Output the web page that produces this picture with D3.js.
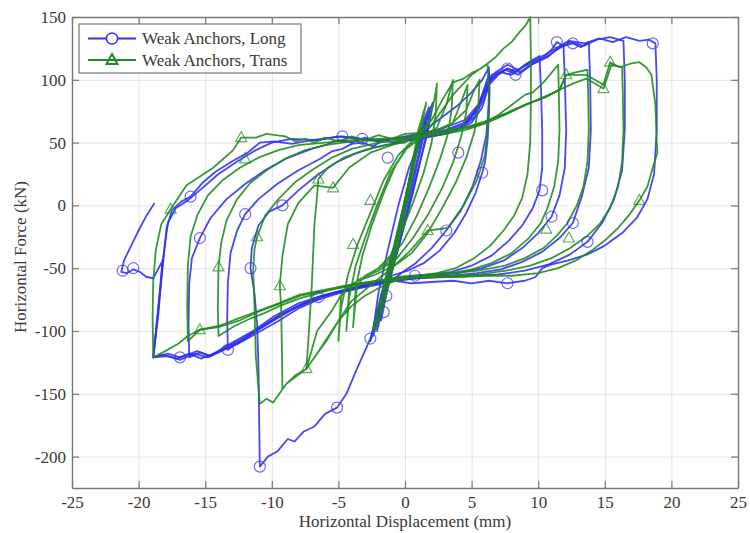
<!DOCTYPE html>
<html>
<head>
<meta charset="utf-8">
<script src="https://cdn.jsdelivr.net/npm/d3@7/dist/d3.min.js"></script>
<style>
  body { margin: 0; background: #fff; }
  svg text { font-family: "Liberation Serif", "Times New Roman", Times, "DejaVu Serif", serif; fill: #383838; }
</style>
</head>
<body>
<div id="chart"></div>
<script>
const width = 750;
const height = 533;

const xTicks = [-25, -20, -15, -10, -5, 0, 5, 10, 15, 20, 25];
const yTicks = [-200, -150, -100, -50, 0, 50, 100, 150];
const seriesNames = ['Weak Anchors, Long', 'Weak Anchors, Trans'];

// Long direction, one array per loading cycle (displacement mm, force kN)
const longSmall = [[0,0],[0.6,35],[1.2,62],[1.8,78],[1.4,55],[0.4,8],[-0.6,-38],[-1.5,-72],[-2.2,-96],[-2.6,-108],[-2.1,-84],[-1.2,-50],[-0.2,-5],[0.8,42],[1.6,70],[2.1,82],[1.7,58],[0.6,12],[-0.5,-34],[-1.4,-66],[-2.0,-92],[-2.4,-104],[-1.9,-76],[-1,-40],[0,0]];
const longInner = [[-1.8,-92],[-1.2,-60],[-0.4,-20],[0.4,25],[1.2,58],[1.9,75],[1.5,52],[0.6,10],[-0.4,-30],[-1.3,-65],[-2.1,-100],[-1.6,-72],[-0.8,-35],[0,5],[0.8,40],[1.5,66],[1.2,50],[0.3,8],[-0.8,-40],[-1.7,-80]];
const longCycle1 = [[0,0],[0.6,32],[1.2,55],[2,64],[3,72],[4,80],[5,90],[5.8,100],[6.3,110],[6.35,92],[6.3,72],[6.2,52],[6,34],[5.8,26],[5.3,10],[4.6,-6],[3.7,-22],[2.6,-36],[1.4,-46],[0.2,-52],[-1,-56],[-1.6,-69],[-2,-85],[-2.6,-106],[-3.6,-130],[-4.4,-150],[-5.1,-161],[-6,-166],[-6.8,-176],[-7.6,-180],[-8.3,-188],[-8.8,-186],[-9.6,-196],[-10.3,-200],[-10.9,-208],[-10.95,-170],[-11,-130],[-11.1,-95],[-11.3,-70],[-11.6,-50],[-11.5,-34],[-11,-16],[-10.2,-5],[-9.2,0],[-8,12],[-6.6,24],[-5.2,34],[-3.8,41],[-2.4,46],[-1,49],[0,51]];
const longRepeat = [[0,51],[1.5,54],[3,57],[4.2,62],[5,70],[5.6,82],[6.1,98],[6.3,104],[6.3,80],[6.1,56],[5.7,36],[5.1,16],[4.2,-4],[3.1,-20],[2,-34],[0.8,-46],[-0.3,-54],[-1.2,-62],[-2,-86],[-2.4,-100],[-2,-70],[-1.3,-36],[-0.5,0],[0.3,30],[1,48]];
const longCycle2 = [[0,51],[1,54],[2,55],[3,57],[4,60],[5,66],[5.8,78],[6.3,96],[7,104],[7.7,109],[8.3,106],[9,112],[9.6,116],[10.1,119],[10.2,95],[10.3,60],[10.3,30],[10.1,12],[9.6,-2],[8.8,-16],[7.8,-28],[6.5,-40],[5,-48],[3.5,-53],[2,-55],[0.75,-56],[-0.5,-58],[-1.6,-60],[-3,-63],[-4.5,-67],[-6.5,-73],[-8,-80],[-9.5,-88],[-10.8,-97],[-12,-106],[-12.8,-111],[-13.3,-115],[-13.35,-90],[-13.3,-62],[-13.1,-38],[-12.6,-20],[-12,-7],[-11,5],[-9.6,17],[-8,28],[-6.4,37],[-5.5,43],[-4.7,45],[-4,49],[-3.2,50],[-2.4,47],[-1.6,52],[-0.8,50],[0,53]];
const longCycle3 = [[0,53],[1.5,55],[3,58],[4.2,62],[5.2,70],[6,86],[6.4,100],[7.2,106],[8,104],[8.8,110],[9.6,114],[10.4,118],[11,124],[11.4,130],[11.9,127],[12,100],[12.1,60],[12,30],[11.6,8],[11,-9],[10,-22],[8.8,-34],[7.4,-44],[5.8,-50],[4,-54],[2,-56],[0,-58],[-2,-61],[-4,-66],[-6,-71],[-8,-78],[-9.8,-88],[-11.4,-100],[-12.6,-107],[-13.6,-113],[-14.6,-120],[-15.4,-117],[-16.2,-121],[-16.25,-95],[-16.2,-62],[-16,-42],[-15.4,-26],[-14.6,-10],[-13.4,5],[-12,17],[-10.5,28],[-9,37],[-7,45],[-6,48],[-5,52],[-4,50],[-3,54],[-2,51],[-1,53],[0,54]];
const longCycle4 = [[0,54],[1.5,56],[3,59],[4.3,64],[5.3,74],[6.1,92],[6.5,104],[7.5,108],[8.5,104],[9.5,112],[10.7,118],[11.6,126],[12.6,129],[13.2,126],[13.8,130],[13.9,100],[13.95,60],[13.8,30],[13.3,8],[12.6,-14],[11.6,-26],[10.3,-37],[8.8,-45],[7.2,-51],[5.4,-54],[3.5,-56],[1.5,-57],[0,-59],[-2,-62],[-4,-67],[-6,-72],[-7.9,-80],[-9.5,-88],[-11,-98],[-12.2,-106],[-13.4,-113],[-14.6,-120],[-15.6,-116],[-16.9,-121],[-17.8,-118],[-18.9,-121],[-18.6,-90],[-18.2,-50],[-17.9,-18],[-17.5,-4],[-16.8,3],[-16.1,7],[-15.2,18],[-14.2,27],[-13,35],[-11.8,42],[-10.9,50],[-9.8,51],[-8.5,49],[-7,52],[-5.5,54],[-4.7,55],[-3.2,53],[-1.5,52],[0,54]];
const longCycle5 = [[0,54],[1.5,57],[3,60],[4.5,66],[5.5,78],[6.2,96],[6.8,104],[7.7,109],[8.6,106],[9.6,113],[10.7,119],[11.4,124],[12.4,130],[13.4,127],[14.4,132],[15.4,134],[16.4,131],[16.5,100],[16.5,60],[16.3,28],[15.7,5],[14.8,-14],[13.7,-29],[12.4,-39],[10.8,-47],[9,-52],[7,-55],[5,-56],[3,-57],[1,-58],[-1,-60],[-3,-64],[-5,-69],[-6.5,-73],[-8,-80],[-9.6,-90],[-11,-99],[-12.3,-108],[-13.5,-114],[-14.4,-118],[-15.3,-122],[-16.2,-118],[-17.1,-122],[-18.2,-119],[-18.9,-121],[-18.5,-85],[-18.2,-45],[-17.8,-14],[-17.2,-2],[-16.3,4],[-15.2,14],[-14,25],[-12.6,35],[-11.2,44],[-10,50],[-8.5,53],[-6.5,52],[-5,55],[-3.5,53],[-2,51],[0,55]];
const longCycle6 = [[0,55],[1.5,58],[3,62],[4.5,68],[5.5,80],[6.2,98],[6.8,106],[7.7,112],[8.5,108],[9.4,114],[10.5,120],[11.5,126],[12.3,131],[13.5,129],[14.6,133],[15.6,130],[16.6,134],[17.6,131],[18.3,132],[18.8,129],[18.9,100],[18.9,60],[18.7,25],[18.2,5],[17.4,-10],[16.3,-22],[15,-32],[13.7,-39],[12.2,-44],[11,-47],[10.3,-50],[9.8,-57],[9,-60],[7.7,-62],[6.3,-60],[5,-62],[3.6,-60],[2,-61],[0.5,-62],[-0.8,-60],[-2,-63],[-3.5,-66],[-5,-70],[-6.5,-75],[-8,-82],[-9.5,-92],[-11,-101],[-12.5,-110],[-13.8,-116],[-14.8,-121],[-15.8,-118],[-16.9,-123],[-17.8,-120],[-18.9,-121],[-18.6,-90],[-18.2,-44],[-18.6,-52],[-18.9,-58],[-19.4,-57],[-19.9,-53],[-20.4,-51],[-20.9,-54],[-21.3,-53],[-21.1,-44],[-20.6,-33],[-20,-20],[-19.4,-8],[-18.8,2]];
const longMarkers = [[-21.2,-52],[-20.4,-50],[-16.1,7],[-15.4,-26],[-12,-7],[-11.6,-50],[-9.2,0],[-4.7,55],[-3.2,53],[-10.9,-208],[-5.1,-161],[-2.6,-106],[-1.6,-85],[-1.4,-72],[-6.5,-73],[-16.9,-121],[-13.3,-115],[-1.3,38],[4,42],[5.8,26],[10.3,12],[11,-9],[12.6,-14],[13.7,-29],[7.7,109],[8.3,104],[11.4,130],[12.6,129],[18.6,129],[0.75,-56],[7.7,-62],[3.1,-20]];

// Transverse direction
const transSmall = [[0,0],[0.5,30],[1,58],[1.4,75],[1.1,55],[0.3,10],[-0.6,-35],[-1.4,-68],[-2,-92],[-2.4,-100],[-1.8,-72],[-0.9,-35],[0,5],[0.8,45],[1.3,70],[1.6,82],[1.2,60],[0.2,5],[-0.8,-45],[-1.6,-80],[-2.2,-98],[-1.7,-70],[-0.6,-25],[0.4,25],[1,60],[1.5,78],[0.9,45],[-0.2,-10],[-1.2,-60],[-2,-90],[-1.4,-60],[-0.4,-15],[0,0]];
const transSpikes = [[0,0],[0.6,38],[1.2,58],[1.8,66],[2.2,84],[2.4,97],[2.3,72],[2,50],[1.4,26],[0.6,2],[-0.3,-22],[-1.1,-40],[-2,-50],[-3,-56],[-3.6,-64],[-3.9,-97],[-3.7,-66],[-3.2,-40],[-2.5,-16],[-1.6,10],[-0.7,32],[0.3,48],[1.4,55],[2.4,62],[3.1,80],[3.6,100],[3.5,76],[3.2,56],[2.6,36],[1.8,14],[0.9,-8],[-0.2,-30],[-1.4,-46],[-2.6,-54],[-3.6,-60],[-4.2,-68],[-4.4,-100],[-4.2,-74],[-3.7,-48],[-3,-26],[-2.1,0],[-1.1,26],[0,44],[1.2,54],[2.4,60],[3.6,66],[4.2,82],[4.7,96],[4.6,74],[4.2,54],[3.6,34],[2.8,14],[1.8,-6],[0.6,-26],[-0.6,-42],[-2,-52],[-3.2,-58],[-4.2,-64],[-4.8,-72],[-5,-108],[-4.8,-82],[-4.3,-56],[-3.6,-32],[-2.6,-6],[-1.6,20],[-0.5,40],[0.6,52],[2,58],[3.4,64],[4.6,76],[5.2,92],[5.6,100],[5.5,78],[5.2,58],[4.6,38],[3.8,18],[2.8,-2],[1.7,-22],[0.5,-38],[-0.8,-48],[-2.2,-55],[-3.5,-60],[-4.6,-68],[-5.5,-84],[-6.6,-100],[-7.4,-130],[-7.2,-98],[-7,-64],[-6.9,-40],[-6.8,-15],[-6.6,8],[-6.5,21],[-5.8,30],[-4.6,38],[-3,44],[-1.5,48],[0,50]];
const transCycle1 = [[0,50],[1,58],[2,68],[2.8,84],[3.6,98],[4.4,101],[5.1,106],[5.7,109],[6.2,113],[6.8,118],[7.4,125],[8,130],[8.6,138],[9.1,144],[9.4,150],[9.45,120],[9.45,80],[9.4,50],[9.2,25],[8.8,6],[8.2,-8],[7.4,-20],[6.4,-32],[5.2,-42],[3.8,-50],[2.4,-54],[1,-56],[0,-58],[-1,-61],[-2,-66],[-3,-72],[-4,-80],[-5,-92],[-5.9,-108],[-6.6,-118],[-7.4,-130],[-8.2,-135],[-8.9,-142],[-9.2,-146],[-9.25,-110],[-9.3,-80],[-9.4,-64],[-9.2,-40],[-8.8,-15],[-8,2],[-6.8,16],[-5.4,14],[-4.2,30],[-2.6,42],[-1,48],[0.5,54],[2,64],[3.6,88],[5,104],[6.2,113],[6.3,90],[6.2,60],[6,40],[5.4,20],[4.4,0],[3.2,-18],[1.7,-20],[0.4,-36],[-1,-50],[-2.4,-62],[-4,-76],[-5.5,-100],[-6.6,-118],[-7.4,-130],[-8.9,-142],[-9.9,-157],[-10.4,-154],[-10.9,-158],[-11.2,-120],[-11.3,-80],[-11.4,-52],[-11.3,-35],[-11.1,-25],[-10.5,-8],[-9.5,5],[-8.3,18],[-7,28],[-5.5,38],[-4,45],[-2,50],[0,52]];
const transCycle2 = [[0,52],[1.5,55],[3,58],[4.5,62],[6,66],[7,72],[8,80],[9,88],[9.6,90],[10.4,98],[11.5,112],[11.55,90],[11.6,60],[11.5,35],[11.2,15],[10.7,-2],[10.2,-14],[9.3,-26],[8,-38],[6.5,-46],[5,-51],[3.5,-54],[2,-55],[0.5,-56],[-0.5,-57],[-2,-60],[-3.5,-62],[-5,-65],[-6.5,-70],[-7.9,-74],[-9.4,-80],[-10.6,-86],[-11.6,-90],[-12.8,-96],[-14,-104],[-14.05,-80],[-14,-49],[-13.8,-30],[-13.4,-12],[-12.6,5],[-11.6,18],[-10.4,28],[-9,37],[-7.5,44],[-6,48],[-4,51],[-2,52],[0,53]];
const transCycle3 = [[0,53],[1.5,55],[3,57],[4.5,60],[6,65],[7.5,72],[9,80],[10.5,86],[11.6,92],[12.1,104],[12.8,106],[13.7,108],[13.75,90],[13.8,60],[13.7,35],[13.4,15],[12.9,0],[12.2,-14],[11.4,-24],[10.4,-34],[9,-42],[7.5,-48],[5.5,-52],[3.5,-54],[1.5,-56],[0,-57],[-2,-60],[-4,-64],[-6,-68],[-7.9,-72],[-9.6,-79],[-11.1,-85],[-12.5,-92],[-14,-97],[-15.4,-99],[-16.3,-108],[-16.35,-80],[-16.3,-48],[-16.1,-25],[-15.6,-8],[-14.8,8],[-13.7,20],[-12.4,30],[-11,38],[-9.5,44],[-8,48],[-6,50],[-4,52],[-2,53],[0,54]];
const transCycle4 = [[0,54],[1.5,56],[3,58],[4.5,62],[6,67],[7.5,73],[9,80],[10.5,86],[11.6,92],[12.6,97],[13.6,101],[14.9,93],[15.5,112],[16.3,110],[16.35,90],[16.4,60],[16.3,35],[16,15],[15.4,-2],[14.6,-15],[13.6,-25],[12.4,-34],[11,-42],[9.4,-48],[7.6,-52],[5.6,-55],[3.5,-56],[1.5,-57],[0,-58],[-2,-60],[-4,-63],[-6,-67],[-7.9,-71],[-9.5,-78],[-11,-84],[-12.5,-90],[-14,-96],[-15.4,-99],[-16.3,-104],[-17,-110],[-18,-116],[-18.9,-121],[-18.95,-90],[-18.9,-60],[-18.7,-35],[-18.3,-15],[-17.6,-3],[-16.4,16],[-14.4,30],[-12.9,44],[-12.3,54],[-11.2,54],[-10.4,57],[-9,55],[-8.2,51],[-7.5,53],[-6.8,50],[-6,54],[-5,51],[-4,55],[-3,52],[-2,56],[-1,53],[0,57]];
const transCycle5 = [[0,57],[1.5,58],[3,60],[4.9,62],[6.5,68],[8,75],[9.5,82],[11,89],[11.6,92],[12.1,104],[13.6,104],[14.9,96],[15.4,114],[16.1,110],[17,113],[17.6,114],[18.1,110],[18.5,104],[18.8,80],[18.9,50],[18.95,42],[18.6,30],[18.2,15],[17.6,4],[16.8,-8],[16,-18],[15,-28],[14,-36],[12.8,-44],[11.5,-50],[10,-54],[8,-56],[6,-56],[4,-57],[2,-57],[0,-58],[-1.5,-60]];
const transMarkers = [[-12.3,54],[-12,37],[-17.6,-3],[-14,-49],[-11.1,-25],[-6.5,21],[-5.4,14],[-15.4,-99],[-7.4,-130],[-3.9,-31],[15.4,114],[14.9,93],[17.6,4],[10.6,-19],[12.3,-26],[12.1,104],[1.7,-20],[-2.6,4],[-9.4,-64]];

const longCycles = [longSmall, longInner, longCycle1, longRepeat, longCycle2, longCycle3, longCycle4, longCycle5, longCycle6];
const transCycles = [transSmall, transSpikes, transCycle1, transCycle2, transCycle3, transCycle4, transCycle5];

const blue = '#2f2ff0';
const green = '#1f8a1f';
const serif = '"Liberation Serif", "Times New Roman", Times, serif';

const margin = {left: 72, right: 12, top: 17, bottom: 45};

function trianglePath(cx, cy, s) {
  const h = s * 0.9;
  return 'M' + cx + ',' + (cy - h * 0.6) + 'L' + (cx + s / 2) + ',' + (cy + h * 0.4) + 'L' + (cx - s / 2) + ',' + (cy + h * 0.4) + 'Z';
}

function drawChart() {
  const svg = d3.select('#chart').append('svg').attr('width', width).attr('height', height);
  svg.append('rect').attr('width', width).attr('height', height).attr('fill', '#fff');

  const x = d3.scaleLinear().domain([-25, 25]).range([margin.left, width - margin.right]);
  const y = d3.scaleLinear().domain([-225, 150]).range([height - margin.bottom, margin.top]);
  const plotW = x.range()[1] - x.range()[0];
  const plotH = y.range()[0] - y.range()[1];

  // grid
  svg.append('g').attr('transform', 'translate(0,' + y.range()[0] + ')')
    .call(d3.axisBottom(x).tickValues(xTicks).tickSize(-plotH).tickFormat(''))
    .call(g => g.select('.domain').remove())
    .selectAll('line').attr('stroke', '#e4e4e4');
  svg.append('g').attr('transform', 'translate(' + x.range()[0] + ',0)')
    .call(d3.axisLeft(y).tickValues(yTicks).tickSize(-plotW).tickFormat(''))
    .call(g => g.select('.domain').remove())
    .selectAll('line').attr('stroke', '#e4e4e4');

  // data lines
  const line = d3.line().x(d => x(d[0])).y(d => y(d[1]));
  const plot = svg.append('g');
  const groups = [[longCycles, blue], [transCycles, green]];
  groups.forEach(function (grp) {
    plot.append('g').selectAll('path').data(grp[0]).join('path')
      .attr('d', line)
      .attr('fill', 'none')
      .attr('stroke', grp[1])
      .attr('stroke-width', 1.8)
      .attr('stroke-linejoin', 'round')
      .attr('stroke-opacity', 0.88);
  });

  plot.append('g').selectAll('circle').data(longMarkers).join('circle')
    .attr('cx', d => x(d[0])).attr('cy', d => y(d[1])).attr('r', 5.5)
    .attr('fill', 'none').attr('stroke', blue).attr('stroke-width', 1.2).attr('stroke-opacity', 0.7);
  plot.append('g').selectAll('path').data(transMarkers).join('path')
    .attr('d', d => trianglePath(x(d[0]), y(d[1]), 11))
    .attr('fill', 'none').attr('stroke', green).attr('stroke-width', 1.2).attr('stroke-opacity', 0.7);

  // axes with inward ticks on all four sides
  const axisColor = '#777';
  function styleAxis(g) {
    g.attr('font-family', null).attr('font-size', null);
    g.select('.domain').attr('stroke', axisColor).attr('stroke-width', 1.4);
    g.selectAll('.tick line').attr('stroke', axisColor).attr('stroke-width', 1.2);
    g.selectAll('text').style('font-size', '17px').style('font-family', serif);
  }
  svg.append('g').attr('transform', 'translate(0,' + y.range()[0] + ')')
    .call(d3.axisBottom(x).tickValues(xTicks).tickSizeInner(-7).tickSizeOuter(0).tickPadding(8).tickFormat(d => String(d)))
    .call(styleAxis);
  svg.append('g').attr('transform', 'translate(0,' + y.range()[1] + ')')
    .call(d3.axisTop(x).tickValues(xTicks).tickSizeInner(-7).tickSizeOuter(0).tickFormat(''))
    .call(styleAxis);
  svg.append('g').attr('transform', 'translate(' + x.range()[0] + ',0)')
    .call(d3.axisLeft(y).tickValues(yTicks).tickSizeInner(-7).tickSizeOuter(0).tickPadding(6).tickFormat(d => String(d)))
    .call(styleAxis);
  svg.append('g').attr('transform', 'translate(' + x.range()[1] + ',0)')
    .call(d3.axisRight(y).tickValues(yTicks).tickSizeInner(-7).tickSizeOuter(0).tickFormat(''))
    .call(styleAxis);

  // axis titles
  svg.append('text').attr('x', x(0)).attr('y', 527).attr('text-anchor', 'middle')
    .style('font-size', '17px').style('font-family', serif).text('Horizontal Displacement (mm)');
  svg.append('text').attr('transform', 'translate(26,257) rotate(-90)').attr('text-anchor', 'middle')
    .style('font-size', '17px').style('font-family', serif).text('Horizontal Force (kN)');

  // legend
  const legend = svg.append('g').attr('transform', 'translate(79,24)');
  legend.append('rect').attr('width', 222).attr('height', 49)
    .attr('fill', '#fff').attr('stroke', '#777').attr('stroke-width', 1.2);
  const rows = [[seriesNames[0], blue, 'circle'], [seriesNames[1], green, 'triangle']];
  rows.forEach(function (r, i) {
    const cy = 14.5 + i * 21.5;
    legend.append('line').attr('x1', 9).attr('x2', 57).attr('y1', cy).attr('y2', cy)
      .attr('stroke', r[1]).attr('stroke-width', 1.8);
    if (r[2] === 'circle') {
      legend.append('circle').attr('cx', 33).attr('cy', cy).attr('r', 5.5)
        .attr('fill', '#fff').attr('stroke', r[1]).attr('stroke-width', 1.4);
    } else {
      legend.append('path').attr('d', trianglePath(33, cy, 11))
        .attr('fill', 'none').attr('stroke', r[1]).attr('stroke-width', 2);
    }
    legend.append('text').attr('x', 63).attr('y', cy + 5.5)
      .style('font-size', '17px').style('font-family', serif).text(r[0]);
  });
}

drawChart();
</script>
</body>
</html>
